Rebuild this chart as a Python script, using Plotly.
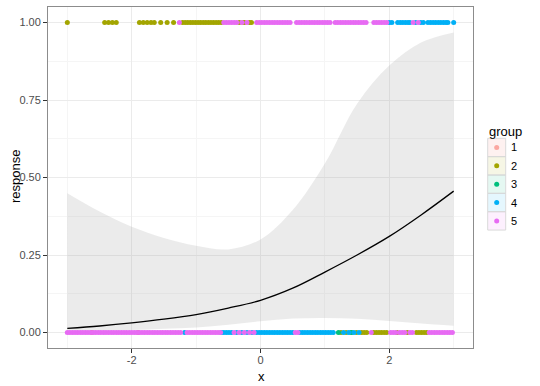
import plotly.graph_objects as go

# ---------------- data ----------------
groups = ["1", "2", "3", "4", "5"]
colors = ["#F8766D", "#A3A500", "#00BF7D", "#00B0F6", "#E76BF3"]

# x positions of observations with response = 0 (bottom row) and = 1 (top row)
g1_x0 = [-2.62, -1.90]
g1_x1 = [-0.27]

g2_x0 = [1.25, 1.33, 1.41, 1.49, 1.57, 1.61, 1.65, 1.76, 1.80, 1.84, 1.88, 1.92, 1.96,
         2.12, 2.28, 2.42, 2.46, 2.50, 2.54, 2.58]
g2_x1 = [-3.00, -2.42, -2.36, -2.30, -2.24, -1.88, -1.82, -1.76, -1.70, -1.65, -1.55,
         -1.45, -1.35, -1.21, -1.17, -1.13, -1.09, -1.05, -1.01, -0.97, -0.93, -0.89,
         -0.85, -0.81, -0.77, -0.73, -0.69, -0.65, -0.61, -0.33, -0.25, -0.17, -0.14]

g3_x0 = [1.21, 1.41]
g3_x1 = []

g4_x0 = [-1.18, -0.61, -0.57, -0.53, -0.49, -0.45, -0.37, -0.29, -0.21, -0.13,
         -0.06, -0.02, 0.02, 0.06, 0.10, 0.14, 0.18, 0.22, 0.26, 0.30, 0.34, 0.38,
         0.42, 0.46, 0.50, 0.61, 0.65, 0.69, 0.73, 0.77, 0.81, 0.85, 0.89, 0.93, 0.97,
         1.01, 1.05, 1.09, 1.13, 1.29, 1.37, 1.45, 1.53]
g4_x1 = [2.00, 2.04, 2.13, 2.17, 2.21, 2.25, 2.29, 2.32, 2.41, 2.49, 2.53, 2.60, 2.64,
         2.68, 2.72, 2.76, 2.80, 2.84, 2.88, 2.91, 3.00]

g5_x0 = [-3.00, -2.96, -2.92, -2.88, -2.84, -2.80, -2.76, -2.72, -2.68, -2.64, -2.60,
         -2.56, -2.52, -2.48, -2.44, -2.40, -2.36, -2.32, -2.28, -2.24, -2.20, -2.16,
         -2.12, -2.08, -2.04, -2.00, -1.96, -1.92, -1.88, -1.84, -1.80, -1.76, -1.72,
         -1.68, -1.64, -1.60, -1.56, -1.52, -1.48, -1.44, -1.40, -1.36, -1.32, -1.28,
         -1.24, -1.14, -1.10, -1.06, -1.02, -0.98, -0.94, -0.90, -0.86, -0.82, -0.78,
         -0.74, -0.70, -0.66, -0.62, -0.41, -0.33, -0.25, -0.17, -0.10, 0.54, 0.58,
         1.72, 2.02, 2.06, 2.10, 2.16, 2.20, 2.24, 2.32, 2.36, 2.62, 2.66, 2.70, 2.74,
         2.78, 2.82, 2.86, 2.90, 2.94, 2.98]
g5_x1 = [-1.26, -0.57, -0.53, -0.49, -0.45, -0.41, -0.37, -0.29, -0.21, -0.06, -0.02,
         0.02, 0.06, 0.10, 0.14, 0.18, 0.22, 0.26, 0.30, 0.34, 0.38, 0.42, 0.46, 0.56,
         0.60, 0.64, 0.68, 0.72, 0.76, 0.80, 0.84, 0.88, 0.92, 0.96, 1.00, 1.04, 1.08,
         1.16, 1.20, 1.24, 1.28, 1.32, 1.36, 1.40, 1.44, 1.48, 1.52, 1.56, 1.60, 1.64,
         1.76, 1.80, 1.84, 1.88, 1.92, 1.96, 2.37, 2.45]

# fitted smooth and its confidence band
fit_x = [-3.0, -2.5, -2.0, -1.5, -1.0, -0.5, 0.0, 0.5, 1.0, 1.5, 2.0, 2.5, 3.0]
fit_y = [0.013, 0.021, 0.031, 0.043, 0.058, 0.079, 0.104, 0.143, 0.195, 0.250, 0.310, 0.380, 0.456]
fit_upper = [0.449, 0.390, 0.341, 0.305, 0.280, 0.268, 0.300, 0.395, 0.545, 0.738, 0.861, 0.936, 0.968]
fit_lower = [0.003, 0.005, 0.008, 0.012, 0.016, 0.025, 0.036, 0.045, 0.047, 0.044, 0.037, 0.029, 0.022]

x_ticks = [-2, 0, 2]
x_ticktext = ["-2", "0", "2"]
y_ticks = [0, 0.25, 0.5, 0.75, 1.0]
y_ticktext = ["0.00", "0.25", "0.50", "0.75", "1.00"]

group_x0 = [g1_x0, g2_x0, g3_x0, g4_x0, g5_x0]
group_x1 = [g1_x1, g2_x1, g3_x1, g4_x1, g5_x1]

# ---------------- figure ----------------
FONT = "Liberation Sans, Arial, Helvetica, sans-serif"
fig = go.Figure()

# ribbon
fig.add_trace(go.Scatter(x=fit_x, y=fit_lower, mode="lines", line=dict(width=0, shape="spline"),
                         hoverinfo="skip", showlegend=False))
fig.add_trace(go.Scatter(x=fit_x, y=fit_upper, mode="lines", line=dict(width=0, shape="spline"),
                         fill="tonexty", fillcolor="rgba(153,153,153,0.2)",
                         hoverinfo="skip", showlegend=False))
# fitted line
fig.add_trace(go.Scatter(x=fit_x, y=fit_y, mode="lines",
                         line=dict(color="black", width=1.3, shape="spline"),
                         hoverinfo="skip", showlegend=False))

for g, c, xs0, xs1 in zip(groups, colors, group_x0, group_x1):
    fig.add_trace(go.Scatter(
        x=xs0 + xs1, y=[0] * len(xs0) + [1] * len(xs1), mode="markers",
        marker=dict(color=c, size=5, line=dict(width=0)), name=g, showlegend=False))

# ---------------- manual legend & titles ----------------
L, R, T, B = 48, 473, 7, 348
W, H = R - L, B - T


def px(xp):
    return (xp - L) / W


def py(yp):
    return (B - yp) / H


shapes = []
annotations = []
annotations.append(dict(x=px(261), y=py(376), xref="paper", yref="paper", text="x",
                        showarrow=False, xanchor="center", yanchor="middle",
                        font=dict(family=FONT, size=13, color="black")))
annotations.append(dict(x=px(15), y=py(177), xref="paper", yref="paper", text="response",
                        showarrow=False, xanchor="center", yanchor="middle", textangle=-90,
                        font=dict(family=FONT, size=13, color="black")))
annotations.append(dict(x=px(487), y=py(131), xref="paper", yref="paper", text="group",
                        showarrow=False, xanchor="left", yanchor="middle",
                        font=dict(family=FONT, size=13, color="black")))
key_top = 138.3
key_h = 18.35
for i, (g, c) in enumerate(zip(groups, colors)):
    y0 = key_top + i * key_h
    y1 = y0 + key_h
    r, gg, b = int(c[1:3], 16), int(c[3:5], 16), int(c[5:7], 16)
    shapes.append(dict(type="rect", xref="paper", yref="paper",
                       x0=px(487.7), x1=px(505.7), y0=py(y1), y1=py(y0),
                       fillcolor=f"rgba({r},{gg},{b},0.10)",
                       line=dict(color="#d9d9d9", width=1)))
    cy = (y0 + y1) / 2
    shapes.append(dict(type="circle", xref="paper", yref="paper",
                       xsizemode="pixel", ysizemode="pixel",
                       xanchor=px(496.7), yanchor=py(cy),
                       x0=-2.5, x1=2.5, y0=-2.5, y1=2.5,
                       fillcolor=c if g != "1" else "rgba(248,118,109,0.6)",
                       line=dict(width=0)))
    annotations.append(dict(x=px(509), y=py(cy), xref="paper", yref="paper", text=g,
                            showarrow=False, xanchor="left", yanchor="middle",
                            font=dict(family=FONT, size=11, color="black")))

fig.update_layout(
    width=540, height=386,
    margin=dict(l=L, r=540 - R, t=T, b=386 - B, autoexpand=False),
    paper_bgcolor="white", plot_bgcolor="white",
    font=dict(family=FONT, size=11, color="#4d4d4d"),
    showlegend=False, hovermode=False,
    shapes=shapes, annotations=annotations,
)
fig.update_xaxes(
    automargin=False,
    range=[-3.3, 3.3], tickvals=x_ticks, ticktext=x_ticktext, ticks="outside", ticklen=4,
    tickcolor="#333333", tickfont=dict(size=11, color="#4d4d4d"), ticklabelstandoff=-2,
    showgrid=True, gridcolor="#ebebeb", gridwidth=1, zeroline=False,
    minor=dict(dtick=1, tick0=1, showgrid=True, gridcolor="#f5f5f5", gridwidth=0.6),
    showline=True, linecolor="#8c8c8c", linewidth=1, mirror=True,
)
fig.update_yaxes(
    automargin=False,
    range=[-0.05, 1.05], tickvals=y_ticks, ticktext=y_ticktext, ticks="outside", ticklen=4,
    tickcolor="#333333", tickfont=dict(size=11, color="#4d4d4d"),
    showgrid=True, gridcolor="#ebebeb", gridwidth=1, zeroline=False,
    minor=dict(dtick=0.125, tick0=0.125, showgrid=True, gridcolor="#f5f5f5", gridwidth=0.6),
    showline=True, linecolor="#8c8c8c", linewidth=1, mirror=True,
)

fig.write_html("out.html", config={"displayModeBar": False},
               post_script="document.body.style.margin='0';document.body.style.overflow='hidden';")
